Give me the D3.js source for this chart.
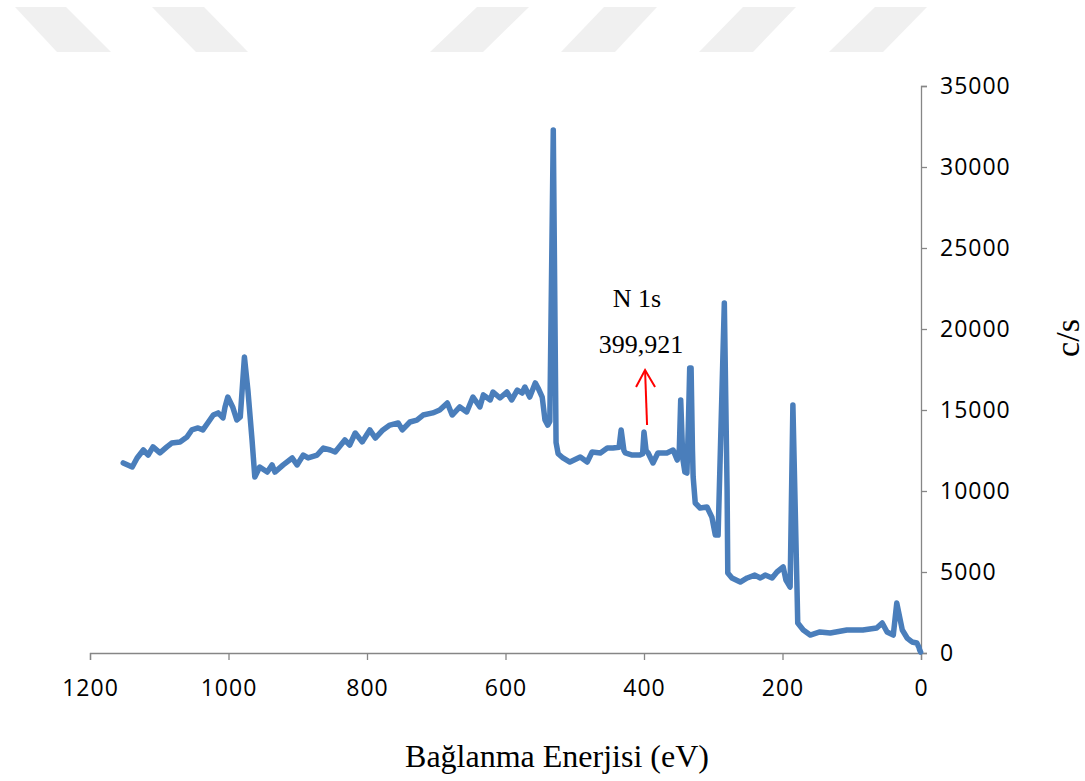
<!DOCTYPE html>
<html>
<head>
<meta charset="utf-8">
<script src="https://cdn.jsdelivr.net/npm/d3@7"></script>
<style>
  html, body { margin: 0; padding: 0; background: #ffffff; }
  svg { display: block; }
</style>
</head>
<body>
<svg id="chart" width="1085" height="781"></svg>
<script>
// ---- Data ----
const energy = [1152,1139,1132,1123,1116,1109,1099,1089,1082,1070,1060,1053,1044,1037,1030,1022,1015,1008,1005,1001,994,988,983,977,972,966,962,955,944,937,933,921,908,901,892,885,872,863,853,846,832,825,817,807,796,788,777,767,755,749,738,728,719,705,695,684,677,666,656,647,637,632,622,618,608,598,591,583,576,572,565,557,553,547,543,539,536,531,527,524,517,507,492,482,475,463,453,445,436,433,429,427,417,406,402,400,397,394,387,380,367,358,352,349,347,344,341,338,336,334,332,330,329,326,319,309,302,297,293,284,280,279,273,261,251,240,232,225,215,208,199,195,189,185,179,178,170,160,146,131,107,84,64,56,49,40,35,27,20,13,6,3,2,0.5];
const counts = [11730,11480,12040,12530,12220,12720,12350,12720,12960,13030,13330,13770,13890,13770,14200,14690,14820,14510,15190,15800,15190,14380,14570,18270,16230,13150,10860,11480,11170,11610,11170,11610,12040,11610,12220,12040,12220,12650,12530,12410,13150,12840,13580,13030,13770,13270,13770,14070,14200,13770,14260,14380,14690,14820,15000,15430,14690,15190,14880,15800,15190,15930,15620,16110,15740,16110,15620,16230,16050,16420,15800,16670,16360,15800,14380,14070,14300,32290,13000,12300,12040,11790,12100,11790,12410,12350,12650,12650,12700,13770,12500,12350,12220,12220,12300,13640,12500,12350,11730,12350,12350,12530,11910,12600,15620,12000,11170,11110,14000,17590,17590,12500,10860,9260,8950,9010,8390,7280,7280,21600,10060,4940,4630,4380,4630,4810,4630,4810,4630,5000,5310,4500,4070,15310,3890,1850,1420,1110,1300,1230,1420,1420,1540,1850,1300,1110,3090,1420,925,680,617,350,200,60];

const xTicks = [1200,1000,800,600,400,200,0];
const yTicks = [0,5000,10000,15000,20000,25000,30000,35000];

const xTitle = "Bağlanma Enerjisi (eV)";
const yTitle = "c/s";
const annoLabel = "N 1s";
const annoValue = "399,921";
const annoEnergy = 399.921;
const arrowCounts = [14070, 17470];

// ---- Layout ----
const svg = d3.select("#chart");
const plotL = 90, plotR = 921, plotT = 86, plotB = 653;

const x = d3.scaleLinear().domain([1200, 0]).range([plotL, plotR]);
const y = d3.scaleLinear().domain([0, 35000]).range([plotB, plotT]);

// watermark stripes (decorative background)
const stripes = [
  [[15,7],[66,7],[111,52],[57,52]],
  [[152,7],[204,7],[248,52],[196,52]],
  [[477,7],[529,7],[483,52],[430,52]],
  [[604,7],[657,7],[615,52],[561,52]],
  [[743,7],[796,7],[753,52],[699,52]],
  [[875,7],[927,7],[883,52],[829,52]]
];
svg.append("g").selectAll("polygon").data(stripes).join("polygon")
  .attr("points", d => d.map(p => p.join(",")).join(" "))
  .attr("fill", "#f0f0f0");

const axisColor = "#868686";
const tickFont = "'Open Sans', 'Liberation Sans', sans-serif";

// X axis
const xAxis = svg.append("g").attr("transform", `translate(0,${plotB})`)
  .call(d3.axisBottom(x).tickValues(xTicks).tickSize(7).tickPadding(20).tickFormat(d3.format("d")));
xAxis.select(".domain").attr("stroke", axisColor).attr("stroke-width", 1.3);
xAxis.selectAll(".tick line").attr("stroke", axisColor).attr("stroke-width", 1.3);
xAxis.selectAll(".tick text").attr("fill", "#000").attr("font-family", tickFont).attr("font-size", 23)
  .attr("letter-spacing", 1);

// Y axis (right side)
const yAxis = svg.append("g").attr("transform", `translate(${plotR},0)`)
  .call(d3.axisRight(y).tickValues(yTicks).tickSize(6).tickPadding(13).tickFormat(d3.format("d")));
yAxis.select(".domain").attr("stroke", axisColor).attr("stroke-width", 1.3);
yAxis.selectAll(".tick line").attr("stroke", axisColor).attr("stroke-width", 1.3);
yAxis.selectAll(".tick text").attr("fill", "#000").attr("font-family", tickFont).attr("font-size", 23)
  .attr("letter-spacing", 1);

// Line
const pts = energy.map((e, i) => [e, counts[i]]);
svg.append("path")
  .datum(pts)
  .attr("d", d3.line().x(d => x(d[0])).y(d => y(d[1])))
  .attr("fill", "none")
  .attr("stroke", "#4a7ebb")
  .attr("stroke-width", 5.5)
  .attr("stroke-linejoin", "round")
  .attr("stroke-linecap", "round");

// Titles
const serif = "'Liberation Serif', 'Times New Roman', serif";
svg.append("text").attr("x", 557).attr("y", 767).attr("text-anchor", "middle")
  .attr("font-family", serif).attr("font-size", 32).attr("fill", "#000").text(xTitle);
svg.append("text").attr("transform", "translate(1079,338) rotate(-90)").attr("text-anchor", "middle")
  .attr("font-family", serif).attr("font-size", 34).attr("fill", "#000").text(yTitle);

// Annotation
svg.append("text").attr("x", 637).attr("y", 307).attr("text-anchor", "middle")
  .attr("font-family", serif).attr("font-size", 26).attr("fill", "#000").text(annoLabel);
svg.append("text").attr("x", 641).attr("y", 353).attr("text-anchor", "middle")
  .attr("font-family", serif).attr("font-size", 26).attr("fill", "#000").text(annoValue);

const ax = x(annoEnergy) + 2;
const y0 = y(arrowCounts[0]), y1 = y(arrowCounts[1]);
svg.append("line").attr("x1", ax + 1).attr("y1", y0).attr("x2", ax - 1).attr("y2", y1)
  .attr("stroke", "#ff0000").attr("stroke-width", 2);
svg.append("path")
  .attr("d", `M${ax - 10},${y1 + 17} L${ax - 1},${y1} L${ax + 9},${y1 + 17}`)
  .attr("fill", "none").attr("stroke", "#ff0000").attr("stroke-width", 2);
</script>
</body>
</html>
